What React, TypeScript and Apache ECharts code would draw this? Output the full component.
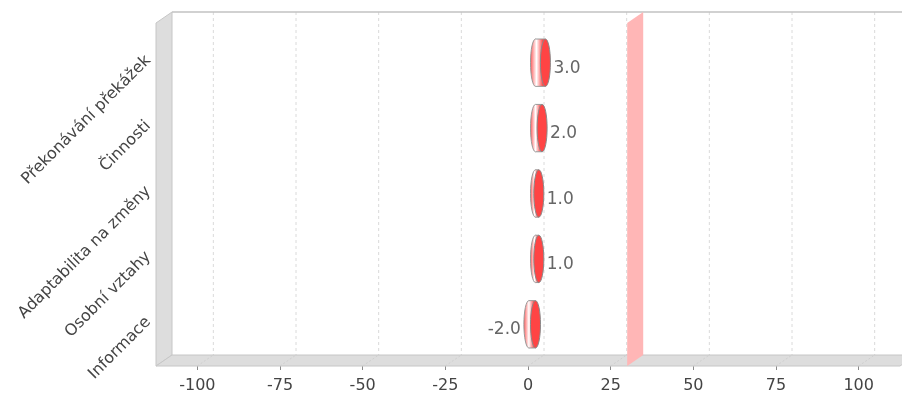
import React, { useEffect, useRef } from "react";
import * as echarts from "echarts";

const CATEGORIES = ["Překonávání překážek", "Činnosti", "Adaptabilita na změny", "Osobní vztahy", "Informace"];
const VALUES = [3, 2, 1, 1, -2];
const X_TICKS = [-100, -75, -50, -25, 0, 25, 50, 75, 100];
const X_MIN = -112.5;
const X_MAX = 112.5;
const MARKERS = [30];

const DX = 16;
const DY = 11;
const PAD_TOP = 7;
const PAD_BOTTOM = 9;
const BAR_OFF = 7.5;
const RX = 5;
const FONT = "DejaVu Sans, sans-serif";

export default function App() {
  const ref = useRef<HTMLDivElement>(null);
  useEffect(() => {
    if (!ref.current) return;
    const chart = echarts.init(ref.current, undefined, { renderer: "svg" });

    const frame = (params: any) => {
      const cs = params.coordSys;
      const fl = cs.x;
      const fr = cs.x + cs.width;
      const ft = cs.y - PAD_TOP;
      const fb = cs.y + cs.height + PAD_BOTTOM;
      return { fl, fr, ft, fb, bl: fl + DX, br: fr + DX, bt: ft - DY, bb: fb - DY };
    };

    const option: any = {
      animation: false,
      grid: { left: 156, right: 2, top: 30, bottom: 38 },
      xAxis: {
        type: "value",
        min: X_MIN,
        max: X_MAX,
        offset: PAD_BOTTOM,
        axisLine: { show: false },
        axisTick: { show: true, customValues: X_TICKS, length: 4, lineStyle: { color: "#8a8a8a" } },
        axisLabel: {
          customValues: X_TICKS,
          fontSize: 16,
          fontFamily: FONT,
          color: "#444",
          margin: 10,
        },
        splitLine: { show: false },
      },
      yAxis: {
        type: "category",
        data: CATEGORIES,
        inverse: true,
        axisLine: { show: false },
        axisTick: { show: false },
        axisLabel: {
          rotate: 45,
          fontSize: 16,
          fontFamily: FONT,
          color: "#444",
          margin: 3,
          align: "right",
          verticalAlign: "bottom",
        },
        splitLine: { show: false },
      },
      series: [
        {
          type: "custom",
          z: 1,
          silent: true,
          data: [[0, 0]],
          renderItem: (params: any, api: any) => {
            const f = frame(params);
            const children: any[] = [];
            children.push({
              type: "rect",
              shape: { x: f.bl, y: f.bt, width: f.br - f.bl, height: f.bb - f.bt },
              style: { fill: "#ffffff" },
            });
            X_TICKS.forEach((t) => {
              const x = api.coord([t, 0])[0];
              children.push({
                type: "line",
                shape: { x1: x + DX, y1: f.bt, x2: x + DX, y2: f.bb },
                style: { stroke: "#dadada", lineWidth: 1, lineDash: [3, 3] },
              });
            });
            children.push({
              type: "polygon",
              shape: { points: [[f.fl, f.ft], [f.bl, f.bt], [f.bl, f.bb], [f.fl, f.fb]] },
              style: { fill: "#dddddd", stroke: "#c6c6c6", lineWidth: 1 },
            });
            children.push({
              type: "polygon",
              shape: { points: [[f.fl, f.fb], [f.bl, f.bb], [f.br, f.bb], [f.fr, f.fb]] },
              style: { fill: "#dddddd", stroke: "#c6c6c6", lineWidth: 1 },
            });
            X_TICKS.forEach((t) => {
              const x = api.coord([t, 0])[0];
              children.push({
                type: "line",
                shape: { x1: x, y1: f.fb, x2: x + DX, y2: f.bb },
                style: { stroke: "#cfcfcf", lineWidth: 1, lineDash: [2, 2] },
              });
            });
            children.push({
              type: "line",
              shape: { x1: f.bl, y1: f.bt, x2: f.br, y2: f.bt },
              style: { stroke: "#c2c2c2", lineWidth: 1.5 },
            });
            return { type: "group", children };
          },
        },
        {
          type: "custom",
          z: 2,
          silent: true,
          data: MARKERS.map((m) => [m, 0]),
          renderItem: (params: any, api: any) => {
            const f = frame(params);
            const x = api.coord([api.value(0), 0])[0];
            return {
              type: "polygon",
              shape: { points: [[x, f.ft], [x + DX, f.bt], [x + DX, f.bb], [x, f.fb]] },
              style: { fill: "#ffb6b6" },
            };
          },
        },
        {
          type: "custom",
          z: 3,
          data: VALUES.map((v, i) => [v, i]),
          renderItem: (params: any, api: any) => {
            const v = api.value(0);
            const i = api.value(1);
            const c0 = api.coord([0, i]);
            const c1 = api.coord([v, i]);
            const cy = c0[1];
            const ry = api.size([0, 1])[1] * 0.362;
            const a = Math.min(c0[0], c1[0]) + BAR_OFF;
            const b = Math.max(c0[0], c1[0]) + BAR_OFF;
            const grad = new echarts.graphic.LinearGradient(
              a - RX, 0, b + RX, 0,
              [
                { offset: 0, color: "#ff5c5c" },
                { offset: 0.3, color: "#ffffff" },
                { offset: 0.62, color: "#ff4646" },
                { offset: 1, color: "#ff4646" },
              ],
              true
            );
            const label = v.toFixed(1);
            const pos = v >= 0;
            return {
              type: "group",
              children: [
                { type: "ellipse", shape: { cx: a, cy, rx: RX, ry }, style: { fill: grad, stroke: "#9a9a9a", lineWidth: 1 } },
                { type: "rect", shape: { x: a, y: cy - ry, width: b - a, height: 2 * ry }, style: { fill: grad } },
                { type: "line", shape: { x1: a, y1: cy - ry, x2: b, y2: cy - ry }, style: { stroke: "#9a9a9a", lineWidth: 1 } },
                { type: "line", shape: { x1: a, y1: cy + ry, x2: b, y2: cy + ry }, style: { stroke: "#9a9a9a", lineWidth: 1 } },
                { type: "ellipse", shape: { cx: b, cy, rx: RX, ry }, style: { fill: "#ff4444", stroke: "#8a8a8a", lineWidth: 1 } },
                {
                  type: "text",
                  style: {
                    text: label,
                    x: pos ? b + RX + 3 : a - RX - 3,
                    y: cy + 4,
                    fill: "#666666",
                    fontSize: 17,
                    fontFamily: FONT,
                    align: pos ? "left" : "right",
                    verticalAlign: "middle",
                  },
                },
              ],
            };
          },
        },
      ],
    };
    chart.setOption(option);
    return () => chart.dispose();
  }, []);
  return <div ref={ref} style={{ position: "fixed", left: 0, top: 0, width: 902, height: 395 }} />;
}
